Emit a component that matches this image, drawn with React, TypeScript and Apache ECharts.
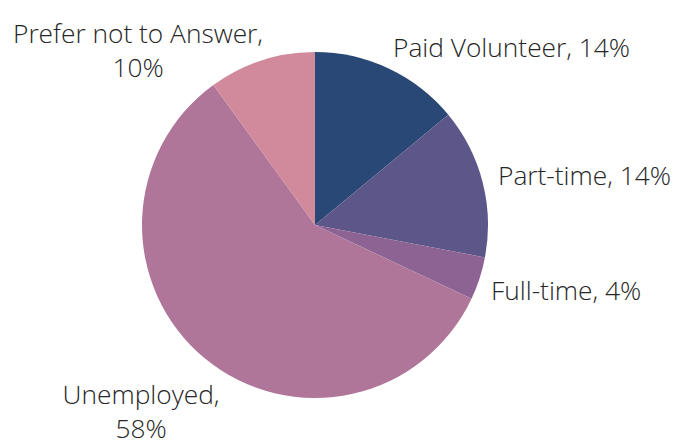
import React, { useEffect, useRef } from "react";
import * as echarts from "echarts";

const categories = ["Paid Volunteer", "Part-time", "Full-time", "Unemployed", "Prefer not to Answer"];
const values = [14, 14, 4, 58, 10];
const colors = ["#294875", "#5d5689", "#8c6393", "#b07699", "#d08a9b"];
const wrapLabel = [false, false, false, true, true];
// label anchor positions (layout only)
const labelPos: [number, number, string][] = [
  [393, 47, "left"],
  [498, 175, "left"],
  [491, 290, "left"],
  [141, 411, "center"],
  [138, 50, "center"],
];

export default function App() {
  const ref = useRef<HTMLDivElement>(null);
  useEffect(() => {
    document.body.style.margin = "0";
    const chart = echarts.init(ref.current!, undefined, { renderer: "svg" });
    chart.setOption({
      animation: false,
      backgroundColor: "#ffffff",
      series: [
        {
          type: "pie",
          center: [315, 225],
          radius: 173,
          startAngle: 90,
          clockwise: true,
          data: categories.map((name, i) => ({
            name,
            value: values[i],
            itemStyle: { color: colors[i] },
          })),
          itemStyle: { borderWidth: 0 },
          label: {
            show: true,
            position: "outside",
            fontFamily: "Open Sans",
            fontWeight: 300,
            fontSize: 26.3,
            lineHeight: 34,
            color: "#262626",
            overflow: "none",
            width: 400,
            formatter: (p: any) =>
              wrapLabel[p.dataIndex] ? `${p.name},\n${p.value}%` : `${p.name}, ${p.value}%`,
          },
          labelLine: { show: false },
          labelLayout: (params: any) => {
            const pos = labelPos[params.dataIndex];
            return {
              x: pos[0],
              y: pos[1],
              align: pos[2],
              verticalAlign: "middle",
              hideOverlap: false,
            };
          },
          emphasis: { disabled: true },
        },
      ],
    });
    return () => chart.dispose();
  }, []);
  return <div ref={ref} style={{ width: 689, height: 445 }} />;
}
